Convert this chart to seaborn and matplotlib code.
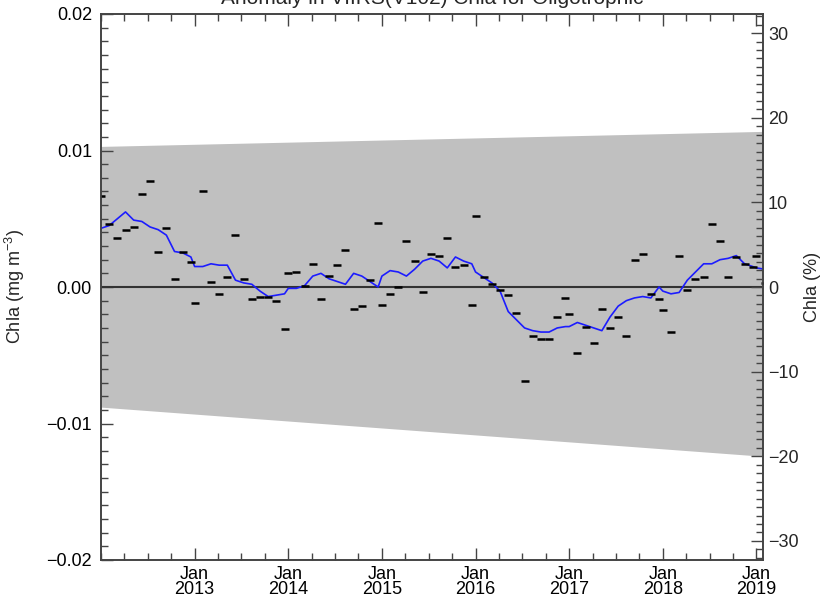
import matplotlib
matplotlib.use("Agg")
import matplotlib.pyplot as plt
import numpy as np
import pandas as pd
import seaborn as sns
from matplotlib.ticker import FixedLocator, MultipleLocator, FuncFormatter

# ---------------- data ----------------
title = "Anomaly in VIIRS(V102) Chla for Oligotrophic"
start_year = 2012

# monthly Chla anomaly (mg m^-3), Jan 2012 ... Feb 2019
anomaly = [
    0.0067, 0.0046, 0.0036, 0.0042, 0.0044, 0.0068, 0.0078, 0.0026, 0.0043, 0.0006, 0.0026, 0.0018,
    -0.0012, 0.0070, 0.0004, -0.0005, 0.0007, 0.0038, 0.0006, -0.0009, -0.0007, -0.0007, -0.0010, -0.0031,
    0.0010, 0.0011, 0.0001, 0.0017, -0.0009, 0.0008, 0.0016, 0.0027, -0.0016, -0.0014, 0.0005, 0.0047,
    -0.0013, -0.0005, 0.0000, 0.0034, 0.0019, -0.0004, 0.0024, 0.0023, 0.0036, 0.0015, 0.0016, -0.0013,
    0.0052, 0.0007, 0.0002, -0.0002, -0.0006, -0.0019, -0.0069, -0.0036, -0.0038, -0.0038, -0.0022, -0.0008,
    -0.0020, -0.0048, -0.0029, -0.0041, -0.0016, -0.0030, -0.0022, -0.0036, 0.0020, 0.0024, -0.0005, -0.0009,
    -0.0017, -0.0033, 0.0023, -0.0002, 0.0006, 0.0007, 0.0046, 0.0034, 0.0007, 0.0022, 0.0017, 0.0015,
    0.0023, 0.0003,
]

# smoothed anomaly (blue line), same months
running_mean = [
    0.0043, 0.0045, 0.0050, 0.0055, 0.0049, 0.0048, 0.0044, 0.0042, 0.0038, 0.0026, 0.0025, 0.0022,
    0.0015, 0.0015, 0.0017, 0.0016, 0.0016, 0.0005, 0.0003, 0.0002, -0.0003, -0.0007, -0.0006, -0.0005,
    -0.0001, -0.0001, 0.0001, 0.0008, 0.0010, 0.0006, 0.0004, 0.0002, 0.0010, 0.0008, 0.0004, 0.0000,
    0.0008, 0.0012, 0.0011, 0.0008, 0.0013, 0.0019, 0.0021, 0.0019, 0.0014, 0.0022, 0.0019, 0.0017,
    0.0011, 0.0007, 0.0003, -0.0003, -0.0018, -0.0024, -0.0030, -0.0032, -0.0033, -0.0033, -0.0030, -0.0029,
    -0.0029, -0.0026, -0.0028, -0.0030, -0.0032, -0.0022, -0.0014, -0.0010, -0.0008, -0.0007, -0.0008, 0.0000,
    -0.0003, -0.0005, -0.0004, 0.0005, 0.0011, 0.0017, 0.0017, 0.0020, 0.0021, 0.0023, 0.0017, 0.0015,
    0.0014, 0.0013,
]

# grey uncertainty envelope (linear), at the two ends of the time axis
band_years = [2012.0, 2019.07]
band_upper = [0.0103, 0.0114]
band_lower = [-0.0088, -0.0124]

mean_chla = 0.062          # climatological mean used for the % axis
x_range = [2012.0, 2019.07]
y_range = [-0.02, 0.02]
year_ticks = [2013, 2014, 2015, 2016, 2017, 2018, 2019]
year_labels = ["Jan\n2013", "Jan\n2014", "Jan\n2015", "Jan\n2016", "Jan\n2017", "Jan\n2018", "Jan\n2019"]
left_ticks = [-0.02, -0.01, 0.0, 0.01, 0.02]
right_ticks = [-30, -20, -10, 0, 10, 20, 30]

# ---------------- build table ----------------
idx = np.arange(len(anomaly))
year = start_year + idx // 12
month = idx % 12
# the original places the 12 months of a year on a slightly compressed grid
t = year + month / 11.46
df = pd.DataFrame({"t": t, "anomaly": anomaly, "smooth": running_mean})

# ---------------- style ----------------
sns.set_style("white")
plt.rcParams["font.family"] = ["Liberation Sans", "DejaVu Sans"]
plt.rcParams["mathtext.fontset"] = "custom"
plt.rcParams["mathtext.rm"] = "Liberation Sans"
plt.rcParams["mathtext.default"] = "regular"
plt.rcParams["axes.unicode_minus"] = True

W, H = 825, 597
fig = plt.figure(figsize=(W / 100, H / 100), dpi=100)
L, R, T, B = 101, 763, 14, 560
ax = fig.add_axes([L / W, 1 - B / H, (R - L) / W, (B - T) / H])
ax.set_facecolor("white")

ax.fill_between(band_years, band_lower, band_upper, color="#c0c0c0", lw=0, zorder=0)
ax.axhline(0, color="#333333", lw=1.5, zorder=1)
sns.lineplot(data=df, x="t", y="smooth", color="#1c1cff", lw=1.2,
             estimator=None, sort=False, ax=ax, zorder=3)
sns.scatterplot(data=df, x="t", y="anomaly", marker="_", s=34, color="black",
                linewidth=1.8, ax=ax, zorder=4, legend=False)

ax.set_xlim(*x_range)
ax.set_ylim(*y_range)

spine_col = "#444444"
for s in ax.spines.values():
    s.set_color(spine_col)
    s.set_linewidth(1.2)
    s.set_visible(True)

fmt = FuncFormatter(lambda v, p: ("%.2f" % (0.0 if abs(v) < 1e-12 else v)).replace("-", "\u2212"))
ax.yaxis.set_major_locator(FixedLocator(left_ticks))
ax.yaxis.set_major_formatter(fmt)
ax.yaxis.set_minor_locator(MultipleLocator(0.001))
ax.xaxis.set_major_locator(FixedLocator(year_ticks))
ax.set_xticklabels(year_labels, linespacing=0.85)
ax.xaxis.set_minor_locator(MultipleLocator(0.25))

ax.tick_params(axis="both", which="both", direction="in", color=spine_col, width=1.0,
               labelsize=13, labelcolor="black")
ax.tick_params(axis="both", which="major", length=8.6)
ax.tick_params(axis="both", which="minor", length=5)
ax.tick_params(axis="x", which="both", top=True, bottom=True, pad=4)
ax.tick_params(axis="y", which="both", left=True, right=False, pad=6.5)

ax.set_xlabel("")
ax.set_ylabel("Chla (mg m$^{-3}$)", fontsize=13)
ax.yaxis.set_label_coords((27 - L) / (R - L), 0.5)

ax2 = ax.twinx()
ax2.set_ylim(y_range[0] / mean_chla * 100, y_range[1] / mean_chla * 100)
ax2.yaxis.set_major_locator(FixedLocator(right_ticks))
ax2.yaxis.set_major_formatter(FuncFormatter(lambda v, p: ("%d" % v).replace("-", "\u2212")))
ax2.yaxis.set_minor_locator(MultipleLocator(1))
ax2.tick_params(axis="y", which="both", direction="in", color=spine_col, width=1.0,
                labelsize=13, pad=3.6, right=True, left=False)
ax2.tick_params(axis="y", which="major", length=8.6)
ax2.tick_params(axis="y", which="minor", length=5)
for s in ax2.spines.values():
    s.set_color(spine_col)
    s.set_linewidth(1.2)
ax2.set_ylabel("Chla (%)", fontsize=13, rotation=90, va="center")
ax2.yaxis.set_label_coords((812 - L) / (R - L), 0.5)

fig.text((L + R) / 2 / W, 1 - 4 / H, title, ha="center", va="baseline", fontsize=15)

fig.savefig("out.png", dpi=100)
